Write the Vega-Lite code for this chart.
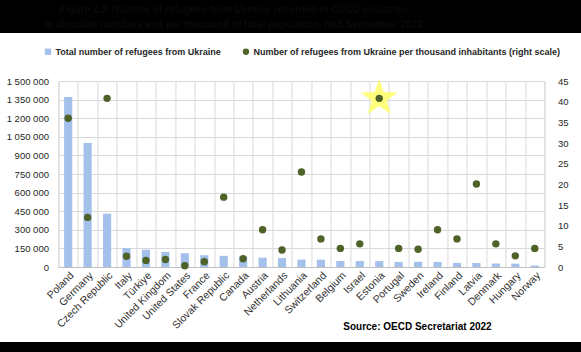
{
  "$schema": "https://vega.github.io/schema/vega-lite/v6.json",
  "background": "white",
  "padding": 0,
  "spacing": 9,
  "center": true,
  "resolve": {"scale": {"color": "independent", "shape": "independent"}, "legend": {"color": "independent", "shape": "independent"}},
  "config": {
    "font": "Liberation Sans",
    "view": {"stroke": null},
    "legend": {"layout": {"top": {"anchor": "middle", "bounds": "full"}}}
  },
  "vconcat": [
    {
      "width": 627,
      "height": 33,
      "view": {"fill": "black", "stroke": null},
      "data": {"values": [{"caption": "Figure 2.3. Number of refugees from Ukraine recorded in OECD countries\nIn absolute numbers and per thousand of total population, mid-September 2022"}]},
      "mark": {"type": "text", "lineBreak": "\n", "color": "#0a0a0a", "fontWeight": "bold", "fontSize": 10, "lineHeight": 15, "dx": -80, "dy": -7},
      "encoding": {"text": {"field": "caption"}}
    },
    {
      "width": 486,
      "height": 186,
      "view": {"stroke": "#d9d9d9"},
      "data": {"values": [
        {"country": "Poland", "total": 1370000, "per1000": 36.0},
        {"country": "Germany", "total": 1000000, "per1000": 12.0},
        {"country": "Czech Republic", "total": 430000, "per1000": 40.8},
        {"country": "Italy", "total": 152000, "per1000": 2.6},
        {"country": "Türkiye", "total": 140000, "per1000": 1.6},
        {"country": "United Kingdom", "total": 122000, "per1000": 1.8},
        {"country": "United States", "total": 110000, "per1000": 0.3},
        {"country": "France", "total": 95000, "per1000": 1.3},
        {"country": "Slovak Republic", "total": 90000, "per1000": 16.9},
        {"country": "Canada", "total": 85000, "per1000": 2.0},
        {"country": "Austria", "total": 75000, "per1000": 9.0},
        {"country": "Netherlands", "total": 72000, "per1000": 4.1},
        {"country": "Lithuania", "total": 60000, "per1000": 23.0},
        {"country": "Switzerland", "total": 59000, "per1000": 6.8},
        {"country": "Belgium", "total": 48000, "per1000": 4.5},
        {"country": "Israel", "total": 48000, "per1000": 5.6},
        {"country": "Estonia", "total": 48000, "per1000": 40.8},
        {"country": "Portugal", "total": 41000, "per1000": 4.5},
        {"country": "Sweden", "total": 42000, "per1000": 4.3},
        {"country": "Ireland", "total": 41000, "per1000": 9.0},
        {"country": "Finland", "total": 33000, "per1000": 6.8},
        {"country": "Latvia", "total": 32000, "per1000": 20.1},
        {"country": "Denmark", "total": 28000, "per1000": 5.6},
        {"country": "Hungary", "total": 27000, "per1000": 2.7},
        {"country": "Norway", "total": 12000, "per1000": 4.5}
      ]},
      "title": {"text": "Source: OECD Secretariat 2022", "orient": "bottom", "anchor": "middle", "dx": 116, "offset": -9, "fontSize": 10, "fontWeight": "bold", "color": "black", "font": "Liberation Sans"},
      "encoding": {
        "x": {
          "field": "country", "type": "nominal", "sort": null,
          "scale": {"paddingInner": 0, "paddingOuter": 0},
          "axis": {"title": null, "labelAngle": -45, "labelFontSize": 10.5, "labelColor": "#333333", "grid": true, "gridColor": "#d9d9d9", "tickBand": "extent", "ticks": false, "domainColor": "#bfbfbf", "labelPadding": 3}
        }
      },
      "layer": [
        {
          "mark": {"type": "bar", "width": {"band": 0.42}},
          "encoding": {
            "y": {
              "field": "total", "type": "quantitative",
              "scale": {"domain": [0, 1500000], "nice": false},
              "axis": {"title": null, "values": [0, 150000, 300000, 450000, 600000, 750000, 900000, 1050000, 1200000, 1350000, 1500000], "labelExpr": "replace(replace(format(datum.value, ',d'), ',', ' '), ',', ' ')", "grid": true, "gridColor": "#d9d9d9", "domain": false, "ticks": false, "labelPadding": 10, "labelFontSize": 9.5, "labelColor": "#262626"}
            },
            "color": {
              "datum": "Total number of refugees from Ukraine",
              "scale": {"domain": ["Total number of refugees from Ukraine", "Number of refugees from Ukraine per thousand inhabitants (right scale)"], "range": ["#a3c1ea", "#4f6228"]},
              "legend": {"orient": "top", "offset": 20, "direction": "horizontal", "title": null, "labelFontSize": 9, "labelFontWeight": "bold", "labelColor": "#262626", "symbolSize": 40, "columnPadding": 20, "padding": 4, "labelOffset": 3, "labelLimit": 400}
            }
          }
        },
        {
          "layer": [
            {
              "transform": [{"filter": "datum.country === 'Estonia'"}],
              "mark": {"type": "point", "shape": "M0,-1L0.235,-0.324L0.951,-0.309L0.38,0.124L0.588,0.809L0,0.4L-0.588,0.809L-0.38,0.124L-0.951,-0.309L-0.235,-0.324Z", "filled": true, "color": "#ffff66", "size": 1500, "opacity": 0.85},
              "encoding": {
                "y": {
                  "field": "per1000", "type": "quantitative",
                  "scale": {"domain": [0, 45], "nice": false},
                  "axis": {"orient": "right", "title": null, "values": [0, 5, 10, 15, 20, 25, 30, 35, 40, 45], "grid": false, "domain": false, "ticks": false, "labelPadding": 13, "labelFontSize": 9.5, "labelColor": "#262626"}
                }
              }
            },
            {
              "mark": {"type": "point", "filled": true, "size": 55, "opacity": 1},
              "encoding": {
                "y": {
                  "field": "per1000", "type": "quantitative",
                  "scale": {"domain": [0, 45], "nice": false},
                  "axis": {"orient": "right", "title": null, "values": [0, 5, 10, 15, 20, 25, 30, 35, 40, 45], "grid": false, "domain": false, "ticks": false, "labelPadding": 13, "labelFontSize": 9.5, "labelColor": "#262626"}
                },
                "color": {"datum": "Number of refugees from Ukraine per thousand inhabitants (right scale)"},
                "shape": {
                  "datum": "Number of refugees from Ukraine per thousand inhabitants (right scale)",
                  "scale": {"domain": ["Total number of refugees from Ukraine", "Number of refugees from Ukraine per thousand inhabitants (right scale)"], "range": ["square", "circle"]},
                  "legend": {"orient": "top", "offset": 20, "direction": "horizontal", "title": null, "labelFontSize": 9, "labelFontWeight": "bold", "labelColor": "#262626", "symbolSize": 40, "columnPadding": 20, "padding": 4, "labelOffset": 3, "labelLimit": 400}
                }
              }
            }
          ]
        }
      ],
      "resolve": {"scale": {"y": "independent"}}
    },
    {
      "width": 627,
      "height": 14,
      "view": {"fill": "black", "stroke": null},
      "data": {"values": [{"caption": " "}]},
      "mark": {"type": "text"},
      "encoding": {"text": {"field": "caption"}}
    }
  ]
}
